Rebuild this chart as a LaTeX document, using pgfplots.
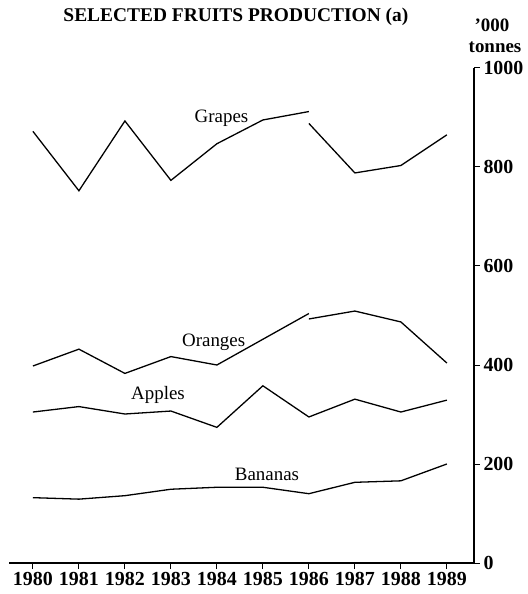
\documentclass[border=0pt]{standalone}
\usepackage{pgfplots}
\pgfplotsset{compat=1.18}
\usepackage{fontspec}
\setmainfont{Liberation Serif}
\usetikzlibrary{calc}
\begin{document}
\begin{tikzpicture}
\begin{axis}[
  name=ax,
  scale only axis, width=465bp, height=495bp,
  xmin=1979.48, xmax=1989.59, ymin=0, ymax=1000,
  axis x line=bottom, axis y line=right,
  axis line style={-, line width=1.3pt},
  xtick={1980,...,1989}, ytick={0,200,...,1000},
  tick align=outside, major tick length=6bp,
  tick style={line width=1pt, black},
  /pgf/number format/1000 sep={},
  /pgf/number format/assume math mode=true,
  ticklabel style={font=\fontsize{20}{22}\selectfont\bfseries},
  every axis plot post/.append style={black, solid, line width=1.3pt, mark=none},
  clip=false,
]
% Grapes (break in series at 1986)
\addplot coordinates {(1980,872) (1981,752) (1982,893) (1983,773) (1984,847) (1985,895) (1986,912)};
\addplot coordinates {(1986,888) (1987,788) (1988,803) (1989,865)};
% Oranges
\addplot coordinates {(1980,398) (1981,432) (1982,383) (1983,417) (1984,400) (1985,452) (1986,504)};
\addplot coordinates {(1986,493) (1987,509) (1988,487) (1989,404)};
% Apples
\addplot coordinates {(1980,305) (1981,316) (1982,301) (1983,307) (1984,274) (1985,358) (1986,295) (1987,331) (1988,305) (1989,329)};
% Bananas
\addplot coordinates {(1980,132) (1981,129) (1982,136) (1983,149) (1984,153) (1985,153) (1986,140) (1987,163) (1988,166) (1989,200)};

\node[font=\fontsize{19}{21}\selectfont] at (axis cs:1984.1,899) {Grapes};
\node[font=\fontsize{19}{21}\selectfont] at (axis cs:1983.93,446) {Oranges};
\node[font=\fontsize{19}{21}\selectfont] at (axis cs:1982.72,339) {Apples};
\node[font=\fontsize{19}{21}\selectfont] at (axis cs:1985.09,180) {Bananas};

\node[anchor=base, yshift=46bp, font=\fontsize{19.5}{21}\selectfont\bfseries] at (rel axis cs:0.488,1) {SELECTED FRUITS PRODUCTION (a)};
\node[xshift=18bp, yshift=43bp, font=\fontsize{19}{21}\selectfont\bfseries] at (rel axis cs:1,1) {’000};
\node[xshift=21bp, yshift=21bp, font=\fontsize{19}{21}\selectfont\bfseries] at (rel axis cs:1,1) {tonnes};
\end{axis}
\pgfresetboundingbox
\path ($(ax.south west)+(-9bp,-31bp)$) rectangle ($(ax.north east)+(54bp,68bp)$);
\end{tikzpicture}
\end{document}
